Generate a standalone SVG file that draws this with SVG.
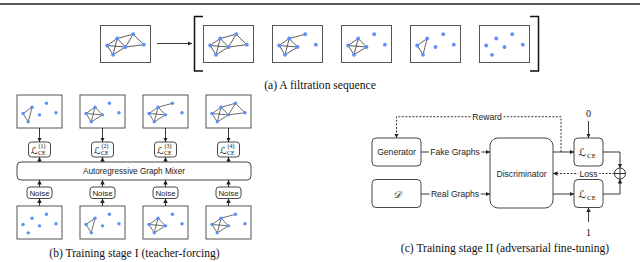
<svg xmlns="http://www.w3.org/2000/svg" xmlns:xlink="http://www.w3.org/1999/xlink" width="640" height="262" viewBox="0 0 640 262">
<style>
.frame{fill:#fff;stroke:#555;stroke-width:1}
.edge{fill:none;stroke:#333;stroke-width:0.8;stroke-linejoin:round}
.node{fill:#5b8ff9}
.rbox{fill:#fff;stroke:#333;stroke-width:0.9}
.conn{fill:none;stroke:#222;stroke-width:0.9}
.dash{fill:none;stroke:#222;stroke-width:0.9;stroke-dasharray:2,1.5}
.sans{font-family:"Liberation Sans",Arial,sans-serif;fill:#222}
.serif{font-family:"Liberation Serif","Times New Roman",serif;fill:#111}
.halo{stroke:#fff;stroke-width:4;paint-order:stroke;stroke-linejoin:round}
.cap{font-family:"Liberation Serif","Times New Roman",serif;font-size:11.6px;fill:#111;text-anchor:middle}
.scr{font-family:"DejaVu Sans",serif;font-style:normal;fill:#111}
.scrD{font-family:"DejaVu Serif","DejaVu Sans",serif;font-style:italic;fill:#111}
</style>
<defs>
<marker id="ah" viewBox="0 0 6 6" refX="6" refY="3" markerWidth="4.5" markerHeight="4.5" orient="auto" markerUnits="userSpaceOnUse"><path d="M0,0L6,3L0,6Z" fill="#222"/></marker>
<g id="nodes" class="node">
<circle cx="6.7" cy="20" r="1.9"/><circle cx="16.7" cy="13" r="1.9"/><circle cx="32.7" cy="8.7" r="1.9"/><circle cx="43.3" cy="19.2" r="1.9"/><circle cx="25" cy="21.5" r="1.9"/><circle cx="12.5" cy="29.3" r="1.9"/>
</g>
<path id="e1" class="edge" d="M6.7,20L16.7,13L12.5,29.3Z"/>
<path id="e2" class="edge" d="M6.7,20L25,21.5M16.7,13L25,21.5M12.5,29.3L25,21.5"/>
<path id="e3" class="edge" d="M16.7,13L32.7,8.7"/>
<path id="e4" class="edge" d="M32.7,8.7L25,21.5M32.7,8.7L43.3,19.2M25,21.5L43.3,19.2"/>
<g id="g0"><use xlink:href="#nodes"/></g>
<g id="g1"><use xlink:href="#e1"/><use xlink:href="#nodes"/></g>
<g id="g2"><use xlink:href="#e1"/><use xlink:href="#e2"/><use xlink:href="#nodes"/></g>
<g id="g3"><use xlink:href="#e1"/><use xlink:href="#e2"/><use xlink:href="#e3"/><use xlink:href="#nodes"/></g>
<g id="g4"><use xlink:href="#e1"/><use xlink:href="#e2"/><use xlink:href="#e3"/><use xlink:href="#e4"/><use xlink:href="#nodes"/></g>
</defs>

<line x1="0" y1="4" x2="640" y2="4" stroke="#222" stroke-width="1.4"/>

<!-- (a) filtration sequence -->
<g id="a-input"><rect class="frame" x="100.5" y="25.5" width="50" height="37"/><use xlink:href="#g4" transform="translate(100.5,25.5)"/></g>
<g id="a-s1"><rect class="frame" x="203.5" y="25.5" width="50" height="37"/><use xlink:href="#g4" transform="translate(203.5,25.5)"/></g>
<g id="a-s2"><rect class="frame" x="272.5" y="25.5" width="50" height="37"/><use xlink:href="#g3" transform="translate(272.5,25.5)"/></g>
<g id="a-s3"><rect class="frame" x="341.5" y="25.5" width="50" height="37"/><use xlink:href="#g2" transform="translate(341.5,25.5)"/></g>
<g id="a-s4"><rect class="frame" x="410.5" y="25.5" width="50" height="37"/><use xlink:href="#g1" transform="translate(410.5,25.5)"/></g>
<g id="a-s5"><rect class="frame" x="479.5" y="25.5" width="50" height="37"/><use xlink:href="#g0" transform="translate(479.5,25.5)"/></g>
<g id="a-brackets" fill="none" stroke="#111" stroke-width="1.5">
<path d="M203,16.5H194.5V71H203"/>
<path d="M530,16.5H538.5V71H530"/>
</g>
<text class="cap" x="320" y="88.5">(a) A filtration sequence</text>

<!-- (b) teacher forcing -->
<g id="b-t1"><rect class="frame" x="17" y="95" width="45" height="33"/><use xlink:href="#g1" transform="translate(17,95.5) scale(0.9)"/></g>
<g id="b-t2"><rect class="frame" x="80" y="95" width="45" height="33"/><use xlink:href="#g2" transform="translate(80,95.5) scale(0.9)"/></g>
<g id="b-t3"><rect class="frame" x="143" y="95" width="45" height="33"/><use xlink:href="#g3" transform="translate(143,95.5) scale(0.9)"/></g>
<g id="b-t4"><rect class="frame" x="206" y="95" width="45" height="33"/><use xlink:href="#g4" transform="translate(206,95.5) scale(0.9)"/></g>

<g id="b-l1"><rect class="rbox" x="28.5" y="142" width="22" height="15" rx="3"/><text class="scr" x="30.5" y="153.5" font-size="9.5">ℒ</text><text class="serif" x="38.5" y="148.3" font-size="6">(1)</text><text class="serif" x="38" y="155" font-size="6">CE</text></g>
<g id="b-l2"><rect class="rbox" x="91.5" y="142" width="22" height="15" rx="3"/><text class="scr" x="93.5" y="153.5" font-size="9.5">ℒ</text><text class="serif" x="101.5" y="148.3" font-size="6">(2)</text><text class="serif" x="101" y="155" font-size="6">CE</text></g>
<g id="b-l3"><rect class="rbox" x="154.5" y="142" width="22" height="15" rx="3"/><text class="scr" x="156.5" y="153.5" font-size="9.5">ℒ</text><text class="serif" x="164.5" y="148.3" font-size="6">(3)</text><text class="serif" x="164" y="155" font-size="6">CE</text></g>
<g id="b-l4"><rect class="rbox" x="217.5" y="142" width="22" height="15" rx="3"/><text class="scr" x="219.5" y="153.5" font-size="9.5">ℒ</text><text class="serif" x="227.5" y="148.3" font-size="6">(4)</text><text class="serif" x="227" y="155" font-size="6">CE</text></g>

<g id="b-mixer"><rect class="rbox" x="17" y="162" width="234" height="18" rx="4"/><text class="sans" x="134" y="174" font-size="8.2" text-anchor="middle">Autoregressive Graph Mixer</text></g>

<g id="b-n1"><rect class="rbox" x="27" y="187" width="25" height="11.5" rx="3"/><text class="sans" x="39.5" y="195.8" font-size="7.9" text-anchor="middle">Noise</text></g>
<g id="b-n2"><rect class="rbox" x="90" y="187" width="25" height="11.5" rx="3"/><text class="sans" x="102.5" y="195.8" font-size="7.9" text-anchor="middle">Noise</text></g>
<g id="b-n3"><rect class="rbox" x="153" y="187" width="25" height="11.5" rx="3"/><text class="sans" x="165.5" y="195.8" font-size="7.9" text-anchor="middle">Noise</text></g>
<g id="b-n4"><rect class="rbox" x="216" y="187" width="25" height="11.5" rx="3"/><text class="sans" x="228.5" y="195.8" font-size="7.9" text-anchor="middle">Noise</text></g>

<g id="b-b1"><rect class="frame" x="17" y="206" width="45" height="33"/><use xlink:href="#g0" transform="translate(17,206.5) scale(0.9)"/></g>
<g id="b-b2"><rect class="frame" x="80" y="206" width="45" height="33"/><use xlink:href="#g1" transform="translate(80,206.5) scale(0.9)"/></g>
<g id="b-b3"><rect class="frame" x="143" y="206" width="45" height="33"/><use xlink:href="#g2" transform="translate(143,206.5) scale(0.9)"/></g>
<g id="b-b4"><rect class="frame" x="206" y="206" width="45" height="33"/><use xlink:href="#g3" transform="translate(206,206.5) scale(0.9)"/></g>
<text class="cap" x="134.5" y="256.5">(b) Training stage I (teacher-forcing)</text>

<!-- (c) adversarial fine-tuning -->
<g id="c-generator"><rect class="rbox" x="372" y="138" width="49" height="28" rx="4"/><text class="sans" x="396.5" y="155" font-size="8.6" text-anchor="middle">Generator</text></g>
<g id="c-data"><rect class="rbox" x="372" y="179.5" width="49" height="28" rx="4"/><text class="scrD" x="396.5" y="197.5" font-size="10" text-anchor="middle">𝒟</text></g>
<g id="c-disc"><rect class="rbox" x="490" y="138" width="63" height="70" rx="8"/><text class="sans" x="521.5" y="176.5" font-size="8.6" text-anchor="middle">Discriminator</text></g>
<g id="c-lce0"><rect class="rbox" x="574" y="138" width="29" height="28" rx="4"/><text class="scr" x="578.5" y="156" font-size="10.5">ℒ</text><text class="serif" x="587" y="158" font-size="7">CE</text></g>
<g id="c-lce1"><rect class="rbox" x="574" y="179.5" width="29" height="28" rx="4"/><text class="scr" x="578.5" y="197.5" font-size="10.5">ℒ</text><text class="serif" x="587" y="199.5" font-size="7">CE</text></g>
<g id="c-sum" fill="none" stroke="#222" stroke-width="0.9"><circle cx="620" cy="173.5" r="5.5" fill="#fff"/><path d="M614.5,173.5H625.5M620,168V179"/></g>
<text class="serif" x="588.5" y="116.5" font-size="10" text-anchor="middle">0</text>
<text class="serif" x="588.5" y="235.5" font-size="10" text-anchor="middle">1</text>

<g id="connectors">
<path class="conn" d="M157,43.5H192" marker-end="url(#ah)"/>
<path class="conn" d="M39.5,128V142" marker-end="url(#ah)"/>
<path class="conn" d="M102.5,128V142" marker-end="url(#ah)"/>
<path class="conn" d="M165.5,128V142" marker-end="url(#ah)"/>
<path class="conn" d="M228.5,128V142" marker-end="url(#ah)"/>
<path class="conn" d="M39.5,162V157" marker-end="url(#ah)"/>
<path class="conn" d="M102.5,162V157" marker-end="url(#ah)"/>
<path class="conn" d="M165.5,162V157" marker-end="url(#ah)"/>
<path class="conn" d="M228.5,162V157" marker-end="url(#ah)"/>
<path class="conn" d="M39.5,187V180" marker-end="url(#ah)"/>
<path class="conn" d="M102.5,187V180" marker-end="url(#ah)"/>
<path class="conn" d="M165.5,187V180" marker-end="url(#ah)"/>
<path class="conn" d="M228.5,187V180" marker-end="url(#ah)"/>
<path class="conn" d="M39.5,206V198.5" marker-end="url(#ah)"/>
<path class="conn" d="M102.5,206V198.5" marker-end="url(#ah)"/>
<path class="conn" d="M165.5,206V198.5" marker-end="url(#ah)"/>
<path class="conn" d="M228.5,206V198.5" marker-end="url(#ah)"/>

<path class="conn" d="M421,152H490" marker-end="url(#ah)"/>
<path class="conn" d="M421,194H490" marker-end="url(#ah)"/>
<path class="dash" d="M561,152V116.7H396.5V138" marker-end="url(#ah)"/>
<path class="conn" d="M553,152H574" marker-end="url(#ah)"/>
<path class="conn" d="M553,194H574" marker-end="url(#ah)"/>
<path class="conn" d="M588.5,121V138" marker-end="url(#ah)"/>
<path class="conn" d="M588.5,222V207.5" marker-end="url(#ah)"/>
<path class="conn" d="M603,152H620V168" marker-end="url(#ah)"/>
<path class="conn" d="M603,194H620V179" marker-end="url(#ah)"/>
<path class="dash" d="M614.5,173.5H553" marker-end="url(#ah)"/>
<text class="sans halo" x="455" y="155" font-size="8.6" text-anchor="middle">Fake Graphs</text>
<text class="sans halo" x="455" y="197" font-size="8.6" text-anchor="middle">Real Graphs</text>
<text class="sans halo" x="487" y="119.7" font-size="8.6" text-anchor="middle">Reward</text>
<text class="sans halo" x="588.5" y="176.5" font-size="8.6" text-anchor="middle">Loss</text>
</g>
<text class="cap" x="505" y="252">(c) Training stage II (adversarial fine-tuning)</text>
</svg>
